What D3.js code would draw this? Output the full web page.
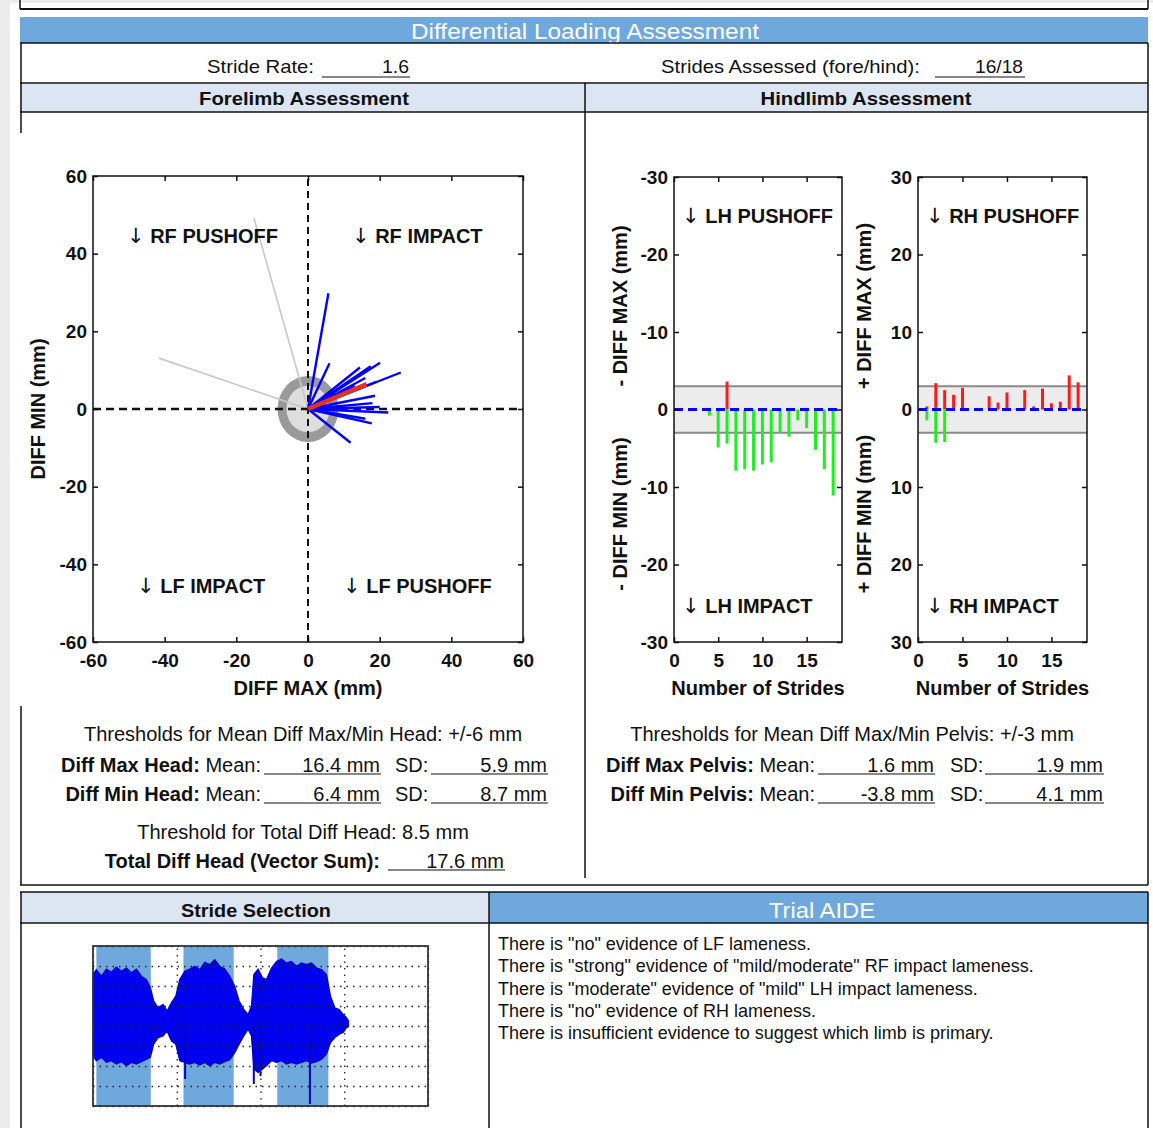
<!DOCTYPE html>
<html>
<head>
<meta charset="utf-8">
<script src="https://cdn.jsdelivr.net/npm/d3@7"></script>
<style>
body { margin: 0; background: #ececec; }
text { font-family: "Liberation Sans", Arial, sans-serif; fill: #111; }
.tick text { font-weight: bold; font-size: 19px; fill: #111; }
.arrow { font-family: "DejaVu Sans", sans-serif; font-weight: normal; }
</style>
</head>
<body>
<div id="report"></div>
<script>
// ---- data ----
// forelimb head vectors per stride (mm)
var foreMax = [5.7, 6.0, 20.1, 14.5, 25.9, 18.7, 22.4, 20.0, 17.8, 11.9, 16.0, 13.0, 19.0, 18.0, 16.0, 17.5];
var foreMin = [29.8, 11.8, 11.9, 10.7, 9.4, 3.4, -0.9, 0.5, -3.7, -8.7, 8.0, 6.0, 7.0, 1.5, -2.5, 11.0];
// strides left out of the assessment
var foreOutMax = [-15.1, -41.6];
var foreOutMin = [49.2, 13.1];
var foreMean = [16.4, 6.4];
var foreRings = [8.5, 6];   // total diff / mean diff thresholds
var foreTicks = [-60, -40, -20, 0, 20, 40, 60];

// hindlimb pelvis per stride (mm)
var hindStride = [1, 2, 3, 4, 5, 6, 7, 8, 9, 10, 11, 12, 13, 14, 15, 16, 17, 18];
var hindMax = [0.4, 3.4, 2.5, 1.9, 2.8, -3.6, 0.1, 1.7, 0.9, 2.2, 0.1, 2.5, 0.4, 2.7, 0.8, 1.0, 4.4, 3.5];
var hindMin = [1.4, 4.3, 4.2, -0.8, -4.9, -4.4, -7.9, -7.7, -7.9, -7.1, -6.8, -3.0, -3.5, -1.4, -2.4, -5.2, -7.7, -11.1];
var hindBand = 3;
var hindYTicks = [-30, -20, -10, 0, 10, 20, 30];
var hindXTicks = [0, 5, 10, 15];

// stride selection signal: envelope of the trace (time, amplitude)
var sigT = [0, 0.040, 0.100, 0.160, 0.219, 0.279, 0.339, 0.399, 0.458, 0.518, 0.578, 0.638, 0.685, 0.725, 0.777, 0.837, 0.884, 0.936, 0.988,
    1.036, 1.096, 1.155, 1.215, 1.275, 1.335, 1.394, 1.454, 1.514, 1.573, 1.633, 1.693, 1.745, 1.800, 1.852, 1.892,
    1.920, 1.972, 2.024, 2.071, 2.131, 2.191, 2.251, 2.310, 2.370, 2.430, 2.489, 2.549, 2.609, 2.669, 2.728, 2.788, 2.836, 2.888, 2.940, 2.987, 3.027, 3.051];
var sigHi = [2.57, 2.82, 2.49, 2.85, 2.69, 2.95, 2.74, 2.90, 2.66, 2.85, 2.49, 2.32, 1.91, 1.25, 0.91, 1.08, 0.75, 1.16, 1.49,
    2.32, 2.74, 2.85, 2.99, 2.82, 3.19, 3.07, 3.32, 2.99, 2.85, 2.49, 1.99, 1.25, 0.83, 0.58, 1.00,
    2.57, 2.85, 2.41, 2.32, 2.90, 3.23, 3.35, 3.15, 3.23, 2.99, 3.15, 3.07, 3.15, 2.90, 2.82, 2.57, 1.49, 0.91, 0.83, 0.58, 0.42, 0.25];
var sigLo = [-1.49, -1.74, -1.57, -1.82, -1.74, -1.90, -1.79, -1.99, -1.82, -1.90, -1.79, -1.66, -1.57, -0.91, -0.58, -0.50, -0.25, -0.74, -0.91,
    -1.74, -1.82, -1.90, -1.82, -1.95, -1.82, -1.99, -1.82, -1.90, -1.79, -1.69, -1.33, -0.91, -0.50, -0.16, -0.50,
    -2.15, -2.32, -2.15, -1.99, -1.74, -1.82, -1.74, -1.90, -1.82, -1.90, -1.82, -1.74, -1.86, -1.79, -1.66, -1.41, -0.83, -0.58, -0.41, -0.33, -0.08, -0.03];
var spikeT = [1.10, 1.92, 2.00, 2.59];
var spikeV = [-2.65, -2.9, -2.5, -3.9];
var selStart = [0.04, 1.08, 2.2];
var selEnd = [0.69, 1.68, 2.81];

var aideLines = [
    'There is "no" evidence of LF lameness.',
    'There is "strong" evidence of "mild/moderate" RF impact lameness.',
    'There is "moderate" evidence of "mild" LH impact lameness.',
    'There is "no" evidence of RH lameness.',
    'There is insufficient evidence to suggest which limb is primary.'
];

var W = 1153, H = 1128;
var blue = "#6fa8dc", pale = "#dce6f2";

var svg = d3.select("#report").append("svg")
    .attr("width", W)
    .attr("height", H);

svg.append("rect").attr("x", 10).attr("y", 3).attr("width", W - 10).attr("height", H).attr("fill", "white");

function hline(x1, x2, y, w) {
    svg.append("line").attr("x1", x1).attr("x2", x2).attr("y1", y).attr("y2", y)
        .attr("stroke", "#111").attr("stroke-width", w || 1.5);
}
function vline(x, y1, y2, w) {
    svg.append("line").attr("x1", x).attr("x2", x).attr("y1", y1).attr("y2", y2)
        .attr("stroke", "#111").attr("stroke-width", w || 1.5);
}
function label(x, y, str, size, anchor, weight) {
    return svg.append("text")
        .attr("x", x).attr("y", y)
        .attr("text-anchor", anchor || "start")
        .attr("dominant-baseline", "central")
        .attr("font-size", size)
        .attr("font-weight", weight || "normal")
        .text(str);
}
// the report uses a condensed face; squeeze the regular one to the same width
function narrow(x, y, str, size, anchor, width, weight) {
    return label(x, y, str, size, anchor, weight)
        .attr("textLength", width)
        .attr("lengthAdjust", "spacingAndGlyphs");
}
function arrowLabel(x, y, str, anchor) {
    var t = label(x, y, "", 20, anchor || "start", "bold");
    t.append("tspan").attr("class", "arrow").attr("font-size", 21).text("\u2193");
    t.append("tspan").text(" " + str);
    return t;
}

// ---- report frame ----
vline(20, 0, 9); vline(1148, 0, 9); hline(20, 1148, 9, 2);

svg.append("rect").attr("x", 20).attr("y", 17).attr("width", 1128).attr("height", 26).attr("fill", blue);
narrow(585, 31, "Differential Loading Assessment", 22, "middle", 348).style("fill", "white");
svg.append("rect").attr("x", 20).attr("y", 84).attr("width", 1128).attr("height", 28).attr("fill", pale);
hline(20, 1148, 43); hline(20, 1148, 83); hline(20, 1148, 112);
vline(21, 43, 133); vline(21, 706, 885); vline(1148, 43, 885); hline(20, 1148, 885);
vline(585, 83, 878);

narrow(314, 66, "Stride Rate:", 19, "end", 107);
hline(322, 410, 77, 1.2);
narrow(409, 66, "1.6", 19, "end", 27);
narrow(920, 66, "Strides Assessed (fore/hind):", 19, "end", 259);
hline(935, 1025, 77, 1.2);
narrow(1023, 66, "16/18", 19, "end", 48);
narrow(304, 98, "Forelimb Assessment", 19, "middle", 210, "bold");
narrow(866, 98, "Hindlimb Assessment", 19, "middle", 211, "bold");

// ---- forelimb vector plot ----
var fx = d3.scaleLinear().domain([-60, 60]).range([93, 523]);
var fy = d3.scaleLinear().domain([-60, 60]).range([642, 176]);
var fore = svg.append("g");

// threshold rings
fore.append("ellipse")
    .attr("cx", fx(0)).attr("cy", fy(0))
    .attr("rx", fx(foreRings[0]) - fx(0)).attr("ry", fy(0) - fy(foreRings[0]))
    .attr("fill", "#9a9a9a");
fore.append("ellipse")
    .attr("cx", fx(0)).attr("cy", fy(0))
    .attr("rx", fx(foreRings[1]) - fx(0)).attr("ry", fy(0) - fy(foreRings[1]))
    .attr("fill", "#dedede");

fore.selectAll("line.out")
    .data(foreOutMax)
    .enter().append("line")
    .attr("class", "out")
    .attr("x1", fx(0)).attr("y1", fy(0))
    .attr("x2", function(d) { return fx(d); })
    .attr("y2", function(d, i) { return fy(foreOutMin[i]); })
    .attr("stroke", "#c8c8c8").attr("stroke-width", 1.6);

// dashed quadrant axes
fore.append("line").attr("x1", fx(-60)).attr("x2", fx(60)).attr("y1", fy(0)).attr("y2", fy(0))
    .attr("stroke", "#111").attr("stroke-width", 2.5).attr("stroke-dasharray", "8,5");
fore.append("line").attr("x1", fx(0)).attr("x2", fx(0)).attr("y1", fy(-60)).attr("y2", fy(60))
    .attr("stroke", "#111").attr("stroke-width", 2).attr("stroke-dasharray", "7,5");

fore.selectAll("line.vec")
    .data(foreMax)
    .enter().append("line")
    .attr("class", "vec")
    .attr("x1", fx(0)).attr("y1", fy(0))
    .attr("x2", function(d) { return fx(d); })
    .attr("y2", function(d, i) { return fy(foreMin[i]); })
    .attr("stroke", "#0000ff").attr("stroke-width", 2.4);

fore.append("line")
    .attr("x1", fx(0)).attr("y1", fy(0))
    .attr("x2", fx(foreMean[0])).attr("y2", fy(foreMean[1]))
    .attr("stroke", "#e8301c").attr("stroke-width", 4.5);

var plain = function(d) { return String(d); };
fore.append("g").attr("transform", "translate(0," + fy(-60) + ")")
    .call(d3.axisBottom(fx).tickValues(foreTicks).tickSizeInner(-5).tickSizeOuter(0).tickPadding(12).tickFormat(plain));
fore.append("g").attr("transform", "translate(" + fx(-60) + ",0)")
    .call(d3.axisLeft(fy).tickValues(foreTicks).tickSizeInner(-5).tickSizeOuter(0).tickPadding(6).tickFormat(plain));
fore.append("g").attr("transform", "translate(0," + fy(60) + ")")
    .call(d3.axisTop(fx).tickValues(foreTicks).tickSizeInner(-5).tickSizeOuter(0).tickFormat(""));
fore.append("g").attr("transform", "translate(" + fx(60) + ",0)")
    .call(d3.axisRight(fy).tickValues(foreTicks).tickSizeInner(-5).tickSizeOuter(0).tickFormat(""));
fore.selectAll(".domain").remove();
fore.selectAll(".tick line").attr("stroke", "#111").attr("stroke-width", 1.5);
fore.append("rect")
    .attr("x", fx(-60)).attr("y", fy(60))
    .attr("width", fx(60) - fx(-60)).attr("height", fy(-60) - fy(60))
    .attr("fill", "none").attr("stroke", "#111").attr("stroke-width", 1.5);

label(308, 688, "DIFF MAX (mm)", 20, "middle", "bold");
label(0, 0, "DIFF MIN (mm)", 20, "middle", "bold").attr("transform", "translate(38,409) rotate(-90)");
arrowLabel(127, 236, "RF PUSHOFF");
arrowLabel(352, 236, "RF IMPACT");
arrowLabel(137, 586, "LF IMPACT");
arrowLabel(343, 586, "LF PUSHOFF");

// ---- hindlimb stride plots ----
var hy = d3.scaleLinear().domain([-30, 30]).range([642, 177]);

function hindPlot(x0, x1, side, tag) {
    var hx = d3.scaleLinear().domain([0, 19]).range([x0, x1]);
    var g = svg.append("g");
    g.append("rect")
        .attr("x", hx(0)).attr("y", hy(hindBand))
        .attr("width", hx(19) - hx(0)).attr("height", hy(-hindBand) - hy(hindBand))
        .attr("fill", "#ececec");
    g.selectAll("line.band")
        .data([hindBand, -hindBand])
        .enter().append("line")
        .attr("class", "band")
        .attr("x1", hx(0)).attr("x2", hx(19))
        .attr("y1", function(d) { return hy(d); })
        .attr("y2", function(d) { return hy(d); })
        .attr("stroke", "#8a8a8a").attr("stroke-width", 2);

    // red: diff max on this side, drawn up; green: diff min on this side, drawn down
    g.selectAll("line.up")
        .data(hindStride.filter(function(d, i) { return side * hindMax[i] > 0; }))
        .enter().append("line")
        .attr("class", "up")
        .attr("x1", function(d) { return hx(d); })
        .attr("x2", function(d) { return hx(d); })
        .attr("y1", hy(0))
        .attr("y2", function(d) { return hy(side * hindMax[d - 1]); })
        .attr("stroke", "#ff1a1a").attr("stroke-width", 3);
    g.selectAll("line.down")
        .data(hindStride.filter(function(d, i) { return side * hindMin[i] > 0; }))
        .enter().append("line")
        .attr("class", "down")
        .attr("x1", function(d) { return hx(d); })
        .attr("x2", function(d) { return hx(d); })
        .attr("y1", hy(0))
        .attr("y2", function(d) { return hy(-side * hindMin[d - 1]); })
        .attr("stroke", "#1ef01e").attr("stroke-width", 3);

    g.append("line").attr("x1", hx(0)).attr("x2", hx(19)).attr("y1", hy(0)).attr("y2", hy(0))
        .attr("stroke", "#0000ff").attr("stroke-width", 3).attr("stroke-dasharray", "9,5");

    var fmt = function(d) { return d === 0 ? "0" : (side < 0 ? "-" : "") + Math.abs(d); };
    g.append("g").attr("transform", "translate(0," + hy(-30) + ")")
        .call(d3.axisBottom(hx).tickValues(hindXTicks).tickSizeInner(-5).tickSizeOuter(0).tickPadding(12).tickFormat(plain));
    g.append("g").attr("transform", "translate(0," + hy(30) + ")")
        .call(d3.axisTop(hx).tickValues(hindXTicks).tickSizeInner(-5).tickSizeOuter(0).tickFormat(""));
    g.append("g").attr("transform", "translate(" + hx(0) + ",0)")
        .call(d3.axisLeft(hy).tickValues(hindYTicks).tickSizeInner(-5).tickSizeOuter(0).tickPadding(6).tickFormat(fmt));
    g.append("g").attr("transform", "translate(" + hx(19) + ",0)")
        .call(d3.axisRight(hy).tickValues(hindYTicks).tickSizeInner(-5).tickSizeOuter(0).tickFormat(""));
    g.selectAll(".domain").remove();
    g.selectAll(".tick line").attr("stroke", "#111").attr("stroke-width", 1.5);
    g.append("rect")
        .attr("x", hx(0)).attr("y", hy(30))
        .attr("width", hx(19) - hx(0)).attr("height", hy(-30) - hy(30))
        .attr("fill", "none").attr("stroke", "#111").attr("stroke-width", 1.5);

    var mid = (hx(0) + hx(19)) / 2;
    var sign = side < 0 ? "- " : "+ ";
    label(mid, 688, "Number of Strides", 20, "middle", "bold");
    label(0, 0, sign + "DIFF MAX (mm)", 20, "middle", "bold").attr("transform", "translate(" + (x0 - 54) + ",306) rotate(-90)");
    label(0, 0, sign + "DIFF MIN (mm)", 20, "middle", "bold").attr("transform", "translate(" + (x0 - 54) + ",514) rotate(-90)");
    arrowLabel(x0 + 8, 216, tag + " PUSHOFF");
    arrowLabel(x0 + 8, 606, tag + " IMPACT");
}
hindPlot(674, 842, -1, "LH");
hindPlot(918, 1087, 1, "RH");

// ---- summary numbers ----
function field(x1, x2, y, val) {
    hline(x1, x2, y + 9, 1.2);
    label(x2 - 1, y, val, 20, "end");
}
function statRow(y, name, mean, sd, xs) {
    var t = label(xs[0] - 3, y, "", 20, "end");
    t.append("tspan").attr("font-weight", "bold").text(name + " ");
    t.append("tspan").text("Mean:");
    field(xs[0], xs[1], y, mean);
    label(xs[2], y, "SD:", 20, "start");
    field(xs[3], xs[4], y, sd);
}
label(303, 734, "Thresholds for Mean Diff Max/Min Head: +/-6 mm", 20, "middle");
statRow(765, "Diff Max Head:", "16.4 mm", "5.9 mm", [264, 381, 395, 431, 548]);
statRow(794, "Diff Min Head:", "6.4 mm", "8.7 mm", [264, 381, 395, 431, 548]);
label(303, 832, "Threshold for Total Diff Head: 8.5 mm", 20, "middle");
label(380, 861, "Total Diff Head (Vector Sum):", 20, "end", "bold");
field(388, 505, 861, "17.6 mm");

label(852, 734, "Thresholds for Mean Diff Max/Min Pelvis: +/-3 mm", 20, "middle");
statRow(765, "Diff Max Pelvis:", "1.6 mm", "1.9 mm", [818, 935, 950, 985, 1104]);
statRow(794, "Diff Min Pelvis:", "-3.8 mm", "4.1 mm", [818, 935, 950, 985, 1104]);

// ---- bottom section ----
svg.append("rect").attr("x", 21).attr("y", 892).attr("width", 468).attr("height", 31).attr("fill", pale);
svg.append("rect").attr("x", 489).attr("y", 892).attr("width", 659).attr("height", 31).attr("fill", blue);
hline(20, 1148, 892); hline(20, 1148, 923);
vline(21, 892, H); vline(489, 892, H); vline(1148, 892, H);
narrow(256, 910, "Stride Selection", 19, "middle", 150, "bold");
narrow(822, 910, "Trial AIDE", 22, "middle", 106).style("fill", "white");

svg.selectAll("text.aide")
    .data(aideLines)
    .enter().append("text")
    .attr("class", "aide")
    .attr("x", 498)
    .attr("y", function(d, i) { return 944 + i * 22.3; })
    .attr("dominant-baseline", "central")
    .attr("font-size", 18)
    .text(function(d) { return d; });

// stride selection trace
var sx = d3.scaleLinear().domain([0, 4]).range([93, 428]);
var sy = d3.scaleLinear().domain([-4, 4]).range([1106, 946]);
var sel = svg.append("g");
sel.selectAll("rect.sel")
    .data(selStart)
    .enter().append("rect")
    .attr("class", "sel")
    .attr("x", function(d) { return sx(d); })
    .attr("width", function(d, i) { return sx(selEnd[i]) - sx(d); })
    .attr("y", sy(4)).attr("height", sy(-4) - sy(4))
    .attr("fill", blue);

var env = d3.area()
    .x(function(d, i) { return sx(sigT[i]); })
    .y0(function(d, i) { return sy(sigLo[i]); })
    .y1(function(d, i) { return sy(sigHi[i]); });
sel.append("path").attr("d", env(sigT)).attr("fill", "#0000f0").attr("stroke", "#0000c8").attr("stroke-width", 1.2);
sel.selectAll("line.spike")
    .data(spikeT)
    .enter().append("line")
    .attr("class", "spike")
    .attr("x1", function(d) { return sx(d); })
    .attr("x2", function(d) { return sx(d); })
    .attr("y1", sy(0))
    .attr("y2", function(d, i) { return sy(spikeV[i]); })
    .attr("stroke", "#0000c8").attr("stroke-width", 2);

sel.append("g").attr("transform", "translate(0," + sy(-4) + ")")
    .call(d3.axisBottom(sx).ticks(4).tickSize(-(sy(-4) - sy(4))).tickFormat(""));
sel.append("g").attr("transform", "translate(" + sx(0) + ",0)")
    .call(d3.axisLeft(sy).ticks(8).tickSize(-(sx(4) - sx(0))).tickFormat(""));
sel.selectAll(".domain").remove();
sel.selectAll(".tick line").attr("stroke", "#222").attr("stroke-width", 1.3).attr("stroke-dasharray", "1.5,5");
sel.append("rect")
    .attr("x", sx(0)).attr("y", sy(4))
    .attr("width", sx(4) - sx(0)).attr("height", sy(-4) - sy(4))
    .attr("fill", "none").attr("stroke", "#333").attr("stroke-width", 1.8);
</script>
</body>
</html>
